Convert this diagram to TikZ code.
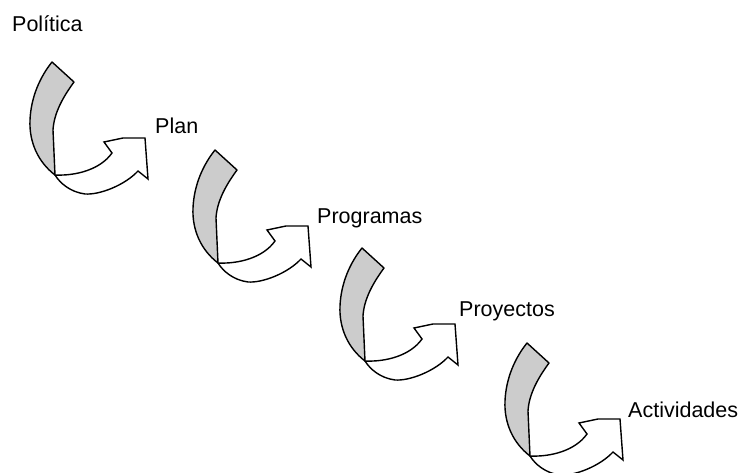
\documentclass[tikz,border=0pt]{standalone}
\usepackage{fontspec}
\setmainfont{Liberation Sans}
\definecolor{bandgray}{RGB}{204,204,204}
\tikzset{
  grayband/.style={draw=black, fill=bandgray, line width=1.4pt, line join=round},
  whiteband/.style={draw=black, fill=white, line width=1.4pt, line join=miter},
  wordtext/.style={anchor=base west, inner sep=0pt, font=\fontsize{21.5}{25}\selectfont},
  pics/swirl/.style={code={
    \path[grayband] (52,62) -- (74,82) .. controls (63,97) and (54,113) .. (53,130)
      -- (55,175) .. controls (38,162) and (29,142) .. (30,120)
      .. controls (31,97) and (40,77) .. (52,62) -- cycle;
    \path[whiteband] (55,175) .. controls (75,176) and (100,170) .. (112,153)
      -- (104,142) -- (123,138) -- (145,138) -- (148,179) -- (138,171)
      .. controls (125,185) and (100,195) .. (85,194)
      .. controls (70,192) and (60,183) .. (55,175) -- cycle;
  }}
}
\begin{document}
\begin{tikzpicture}[x=1pt,y=-1pt]
  \useasboundingbox (0,0) rectangle (745,473);
  \fill[white] (0,0) rectangle (745,473);
  \pic at (0,0) {swirl};
  \pic at (163,88) {swirl};
  \pic at (310,186) {swirl};
  \pic at (475,281) {swirl};
  \node[wordtext] (politica) at (12,32) {Política};
  \node[wordtext] (plan) at (155,134) {Plan};
  \node[wordtext] (programas) at (317,224) {Programas};
  \node[wordtext] (proyectos) at (459,317) {Proyectos};
  \node[wordtext] (actividades) at (628,417) {Actividades};
\end{tikzpicture}
\end{document}
